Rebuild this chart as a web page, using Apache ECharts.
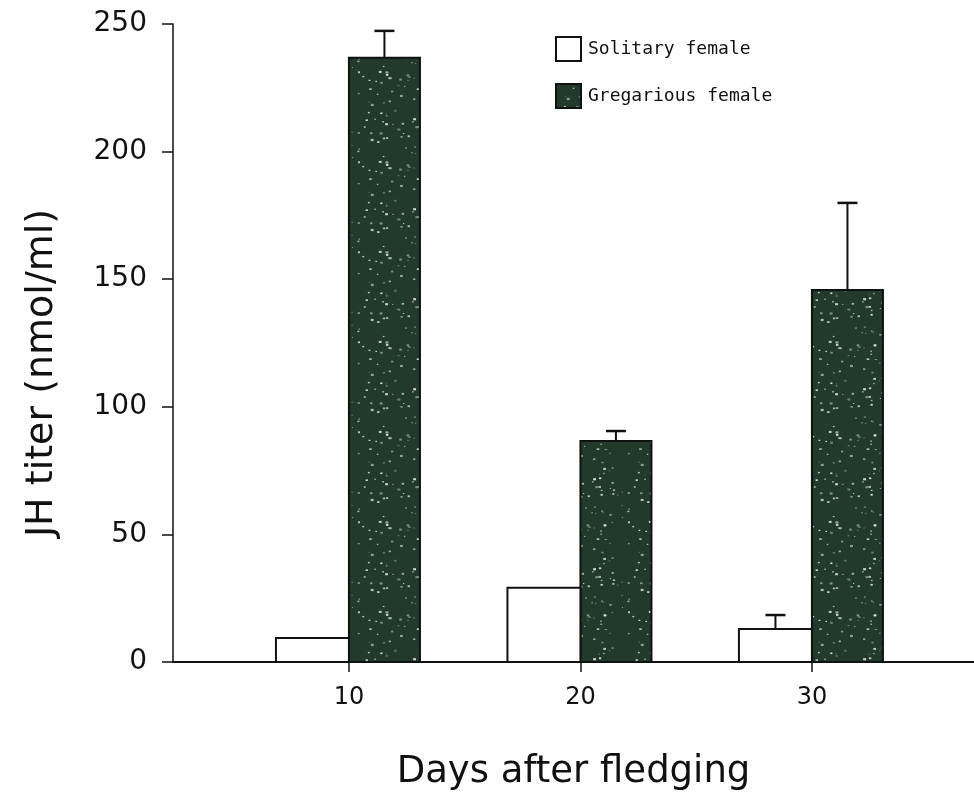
<!DOCTYPE html>
<html>
<head>
<meta charset="utf-8">
<script src="https://cdn.jsdelivr.net/npm/echarts@6/dist/echarts.min.js"></script>
<style>
  html, body { margin: 0; padding: 0; background: #fff; }
  #chart { width: 974px; height: 801px; }
</style>
</head>
<body>
<div id="chart"></div>
<script>
// JH titer in female locusts, by days after fledging
const days = [10, 20, 30];
const yTicks = [0, 50, 100, 150, 200, 250];
const solitaryMean = [9.4, 29.1, 12.9];
const solitaryErr = [0, 0, 5.5];
const gregariousMean = [236.8, 86.6, 145.8];
const gregariousErr = [10.5, 3.9, 34.1];

// speckled dark fill for the gregarious bars (deterministic hash, texture only)
function speckle() {
  const c = document.createElement('canvas');
  c.width = 90; c.height = 90;
  const g = c.getContext('2d');
  g.fillStyle = '#213a2b';
  g.fillRect(0, 0, 90, 90);
  let s = 12345;
  const next = () => { s = (s * 1103515245 + 12345) & 0x7fffffff; return s / 0x7fffffff; };
  for (let i = 0; i < 90; i++) {
    const x = next() * 90, y = next() * 90, r = 0.5 + next() * 1.0;
    const a = 0.3 + next() * 0.6;
    g.fillStyle = 'rgba(235,240,235,' + a.toFixed(2) + ')';
    g.fillRect(x, y, r * 2, r * 1.5);
  }
  return c;
}
const darkFill = { image: speckle(), repeat: 'repeat' };

function barRenderer(side, widthPx, fill) {
  return function (params, api) {
    const x = api.value(0), y = api.value(1), e = api.value(2);
    const base = api.coord([x, 0]);
    const top = api.coord([x, y]);
    const x0 = side < 0 ? base[0] - widthPx : base[0];
    const children = [{
      type: 'rect',
      shape: { x: x0, y: top[1], width: widthPx, height: base[1] - top[1] },
      style: { fill: fill, stroke: '#111', lineWidth: 2 }
    }];
    if (e > 0) {
      const cap = api.coord([x, y + e]);
      const cx = x0 + widthPx / 2;
      children.push({
        type: 'line',
        shape: { x1: cx, y1: top[1], x2: cx, y2: cap[1] },
        style: { stroke: '#111', lineWidth: 2 }
      }, {
        type: 'line',
        shape: { x1: cx - 10, y1: cap[1], x2: cx + 10, y2: cap[1] },
        style: { stroke: '#111', lineWidth: 2.5 }
      });
    }
    return { type: 'group', children: children };
  };
}

const chart = echarts.init(document.getElementById('chart'), null, { renderer: 'canvas' });
chart.setOption({
  animation: false,
  backgroundColor: '#fff',
  grid: { left: 173, right: 0, top: 24, bottom: 139, containLabel: false },
  legend: {
    orient: 'vertical',
    left: 550,
    top: 31,
    itemWidth: 25,
    itemHeight: 24,
    itemGap: 21,
    icon: 'rect',
    textStyle: { fontFamily: 'DejaVu Sans Mono', fontSize: 18, color: '#111', padding: [0, 0, 0, 2] },
    data: ['Solitary female', 'Gregarious female']
  },
  xAxis: {
    type: 'value',
    min: 2.4,
    max: 37,
    name: 'Days after fledging',
    nameLocation: 'middle',
    nameGap: 92,
    nameTextStyle: { fontFamily: 'DejaVu Sans', fontSize: 37, color: '#111' },
    axisLine: { show: true, onZero: false, lineStyle: { color: '#111', width: 2 } },
    axisTick: { show: true, customValues: days, length: 10, lineStyle: { color: '#111', width: 1.5 } },
    axisLabel: { customValues: days, margin: 24, fontFamily: 'DejaVu Sans', fontSize: 24, color: '#111' },
    splitLine: { show: false }
  },
  yAxis: {
    type: 'value',
    min: yTicks[0],
    max: yTicks[yTicks.length - 1],
    interval: 50,
    name: 'JH titer (nmol/ml)',
    nameLocation: 'middle',
    nameGap: 112,
    nameTextStyle: { fontFamily: 'DejaVu Sans', fontSize: 38, color: '#111', padding: [0, 60, 0, 0] },
    axisLine: { show: true, lineStyle: { color: '#111', width: 1.5 } },
    axisTick: { show: true, length: 11, lineStyle: { color: '#111', width: 1.5 } },
    axisLabel: { margin: 26, fontFamily: 'DejaVu Sans', fontSize: 28, color: '#111' },
    splitLine: { show: false }
  },
  series: [
    {
      name: 'Solitary female',
      type: 'custom',
      itemStyle: { color: '#fff', borderColor: '#111', borderWidth: 1.5 },
      renderItem: barRenderer(-1, 73, '#fff'),
      encode: { x: 0, y: 1 },
      data: days.map((d, i) => [d, solitaryMean[i], solitaryErr[i]]),
      z: 3
    },
    {
      name: 'Gregarious female',
      type: 'custom',
      itemStyle: { color: darkFill, borderColor: '#111', borderWidth: 1 },
      renderItem: barRenderer(1, 71, darkFill),
      encode: { x: 0, y: 1 },
      data: days.map((d, i) => [d, gregariousMean[i], gregariousErr[i]]),
      z: 2
    }
  ]
});
</script>
</body>
</html>
